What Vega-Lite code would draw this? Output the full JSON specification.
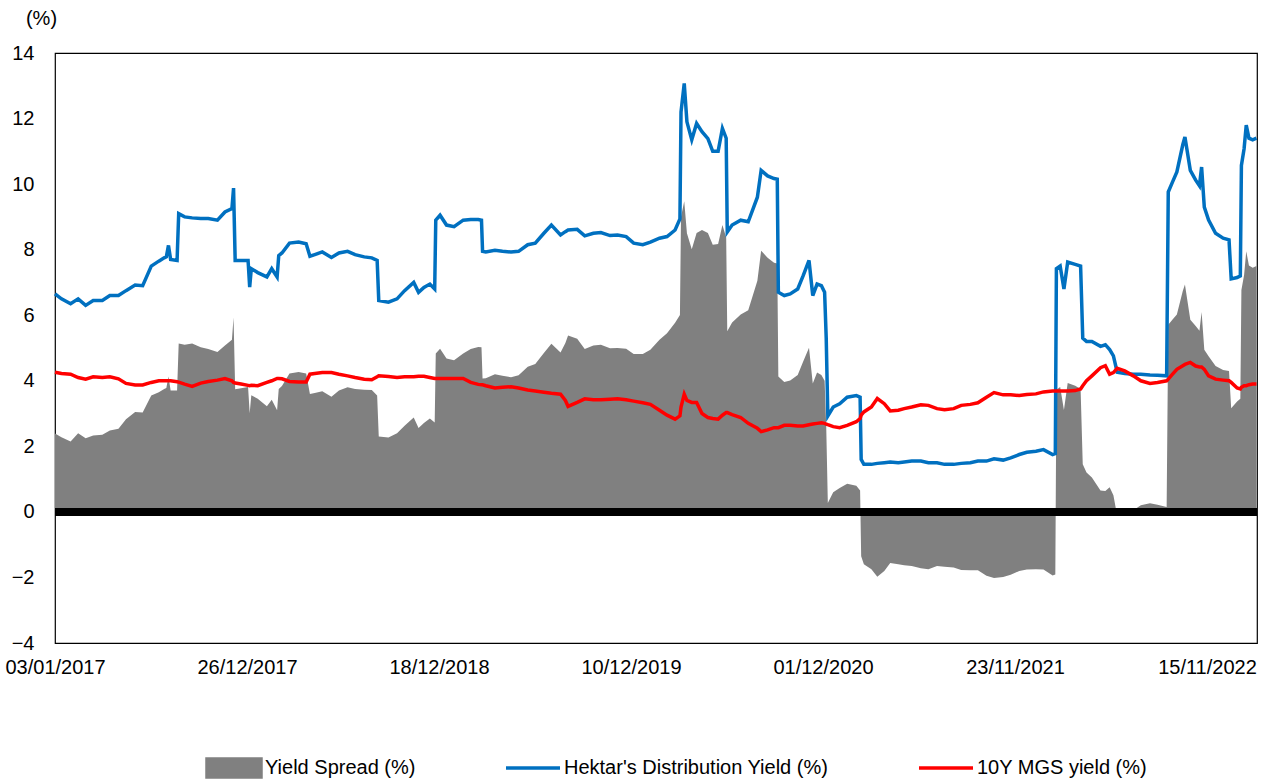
{
  "$schema": "https://vega.github.io/schema/vega-lite/v6.json",
  "width": 1202,
  "height": 590,
  "autosize": {"type": "none"},
  "padding": {"left": 55, "top": 53, "right": 8, "bottom": 137},
  "background": "white",
  "config": {
    "view": {"stroke": "#000", "strokeWidth": 1.2},
    "font": "Liberation Sans",
    "axis": {"labelFont": "Liberation Sans", "titleFont": "Liberation Sans", "labelColor": "#000", "titleColor": "#000"},
    "legend": {"labelFont": "Liberation Sans", "labelColor": "#000"}
  },
  "data": {
    "values": [
      {"date": "2017-01-03", "hektar": 6.65, "mgs": 4.26, "spread": 2.39},
      {"date": "2017-01-15", "hektar": 6.50, "mgs": 4.22, "spread": 2.28},
      {"date": "2017-02-01", "hektar": 6.35, "mgs": 4.20, "spread": 2.15},
      {"date": "2017-02-15", "hektar": 6.50, "mgs": 4.10, "spread": 2.40},
      {"date": "2017-03-01", "hektar": 6.30, "mgs": 4.05, "spread": 2.25},
      {"date": "2017-03-15", "hektar": 6.45, "mgs": 4.12, "spread": 2.33},
      {"date": "2017-04-01", "hektar": 6.45, "mgs": 4.10, "spread": 2.35},
      {"date": "2017-04-15", "hektar": 6.60, "mgs": 4.12, "spread": 2.48},
      {"date": "2017-05-01", "hektar": 6.60, "mgs": 4.06, "spread": 2.54},
      {"date": "2017-05-15", "hektar": 6.75, "mgs": 3.92, "spread": 2.83},
      {"date": "2017-06-01", "hektar": 6.92, "mgs": 3.87, "spread": 3.05},
      {"date": "2017-06-15", "hektar": 6.90, "mgs": 3.87, "spread": 3.03},
      {"date": "2017-07-01", "hektar": 7.50, "mgs": 3.95, "spread": 3.55},
      {"date": "2017-07-15", "hektar": 7.65, "mgs": 4.00, "spread": 3.65},
      {"date": "2017-07-25", "hektar": 7.75, "mgs": 4.00, "spread": 3.75},
      {"date": "2017-07-29", "hektar": 7.78, "mgs": 4.00, "spread": 3.78},
      {"date": "2017-08-02", "hektar": 8.13, "mgs": 4.00, "spread": 4.13},
      {"date": "2017-08-06", "hektar": 7.70, "mgs": 4.00, "spread": 3.70},
      {"date": "2017-08-18", "hektar": 7.67, "mgs": 3.97, "spread": 3.70},
      {"date": "2017-08-21", "hektar": 9.10, "mgs": 3.96, "spread": 5.14},
      {"date": "2017-09-01", "hektar": 9.00, "mgs": 3.90, "spread": 5.10},
      {"date": "2017-09-15", "hektar": 8.97, "mgs": 3.83, "spread": 5.14},
      {"date": "2017-10-01", "hektar": 8.95, "mgs": 3.93, "spread": 5.02},
      {"date": "2017-10-15", "hektar": 8.95, "mgs": 3.98, "spread": 4.97},
      {"date": "2017-11-01", "hektar": 8.90, "mgs": 4.02, "spread": 4.88},
      {"date": "2017-11-15", "hektar": 9.15, "mgs": 4.07, "spread": 5.08},
      {"date": "2017-11-28", "hektar": 9.25, "mgs": 4.00, "spread": 5.25},
      {"date": "2017-12-01", "hektar": 9.88, "mgs": 3.95, "spread": 5.93},
      {"date": "2017-12-04", "hektar": 7.67, "mgs": 3.93, "spread": 3.74},
      {"date": "2017-12-15", "hektar": 7.67, "mgs": 3.90, "spread": 3.77},
      {"date": "2017-12-28", "hektar": 7.67, "mgs": 3.86, "spread": 3.81},
      {"date": "2017-12-31", "hektar": 6.86, "mgs": 3.85, "spread": 3.01},
      {"date": "2018-01-03", "hektar": 7.42, "mgs": 3.86, "spread": 3.56},
      {"date": "2018-01-15", "hektar": 7.30, "mgs": 3.85, "spread": 3.45},
      {"date": "2018-02-01", "hektar": 7.17, "mgs": 3.95, "spread": 3.22},
      {"date": "2018-02-10", "hektar": 7.42, "mgs": 4.00, "spread": 3.42},
      {"date": "2018-02-20", "hektar": 7.17, "mgs": 4.07, "spread": 3.10},
      {"date": "2018-02-23", "hektar": 7.82, "mgs": 4.07, "spread": 3.75},
      {"date": "2018-03-01", "hektar": 7.90, "mgs": 4.06, "spread": 3.84},
      {"date": "2018-03-15", "hektar": 8.20, "mgs": 3.98, "spread": 4.22},
      {"date": "2018-04-01", "hektar": 8.23, "mgs": 3.96, "spread": 4.27},
      {"date": "2018-04-15", "hektar": 8.18, "mgs": 3.96, "spread": 4.22},
      {"date": "2018-04-22", "hektar": 7.80, "mgs": 4.20, "spread": 3.60},
      {"date": "2018-05-01", "hektar": 7.85, "mgs": 4.22, "spread": 3.63},
      {"date": "2018-05-15", "hektar": 7.93, "mgs": 4.25, "spread": 3.68},
      {"date": "2018-06-01", "hektar": 7.76, "mgs": 4.25, "spread": 3.51},
      {"date": "2018-06-15", "hektar": 7.90, "mgs": 4.20, "spread": 3.70},
      {"date": "2018-07-01", "hektar": 7.95, "mgs": 4.15, "spread": 3.80},
      {"date": "2018-07-15", "hektar": 7.85, "mgs": 4.10, "spread": 3.75},
      {"date": "2018-08-01", "hektar": 7.78, "mgs": 4.05, "spread": 3.73},
      {"date": "2018-08-15", "hektar": 7.75, "mgs": 4.03, "spread": 3.72},
      {"date": "2018-08-25", "hektar": 7.67, "mgs": 4.12, "spread": 3.55},
      {"date": "2018-08-28", "hektar": 6.45, "mgs": 4.15, "spread": 2.30},
      {"date": "2018-09-15", "hektar": 6.40, "mgs": 4.13, "spread": 2.27},
      {"date": "2018-10-01", "hektar": 6.50, "mgs": 4.10, "spread": 2.40},
      {"date": "2018-10-15", "hektar": 6.75, "mgs": 4.12, "spread": 2.63},
      {"date": "2018-11-01", "hektar": 7.00, "mgs": 4.12, "spread": 2.88},
      {"date": "2018-11-10", "hektar": 6.70, "mgs": 4.14, "spread": 2.56},
      {"date": "2018-11-20", "hektar": 6.85, "mgs": 4.14, "spread": 2.71},
      {"date": "2018-12-01", "hektar": 6.95, "mgs": 4.10, "spread": 2.85},
      {"date": "2018-12-10", "hektar": 6.80, "mgs": 4.07, "spread": 2.73},
      {"date": "2018-12-12", "hektar": 8.90, "mgs": 4.07, "spread": 4.83},
      {"date": "2018-12-20", "hektar": 9.05, "mgs": 4.07, "spread": 4.98},
      {"date": "2019-01-01", "hektar": 8.75, "mgs": 4.07, "spread": 4.68},
      {"date": "2019-01-15", "hektar": 8.70, "mgs": 4.07, "spread": 4.63},
      {"date": "2019-02-01", "hektar": 8.90, "mgs": 4.07, "spread": 4.83},
      {"date": "2019-02-15", "hektar": 8.92, "mgs": 3.95, "spread": 4.97},
      {"date": "2019-03-01", "hektar": 8.92, "mgs": 3.89, "spread": 5.03},
      {"date": "2019-03-07", "hektar": 8.90, "mgs": 3.88, "spread": 5.02},
      {"date": "2019-03-09", "hektar": 7.95, "mgs": 3.88, "spread": 4.07},
      {"date": "2019-03-15", "hektar": 7.93, "mgs": 3.85, "spread": 4.08},
      {"date": "2019-04-01", "hektar": 7.98, "mgs": 3.78, "spread": 4.20},
      {"date": "2019-04-15", "hektar": 7.95, "mgs": 3.80, "spread": 4.15},
      {"date": "2019-05-01", "hektar": 7.93, "mgs": 3.82, "spread": 4.11},
      {"date": "2019-05-15", "hektar": 7.95, "mgs": 3.78, "spread": 4.17},
      {"date": "2019-06-01", "hektar": 8.15, "mgs": 3.72, "spread": 4.43},
      {"date": "2019-06-15", "hektar": 8.20, "mgs": 3.69, "spread": 4.51},
      {"date": "2019-07-01", "hektar": 8.50, "mgs": 3.65, "spread": 4.85},
      {"date": "2019-07-15", "hektar": 8.75, "mgs": 3.62, "spread": 5.13},
      {"date": "2019-08-01", "hektar": 8.45, "mgs": 3.59, "spread": 4.86},
      {"date": "2019-08-10", "hektar": 8.55, "mgs": 3.40, "spread": 5.15},
      {"date": "2019-08-15", "hektar": 8.60, "mgs": 3.22, "spread": 5.38},
      {"date": "2019-09-01", "hektar": 8.62, "mgs": 3.34, "spread": 5.28},
      {"date": "2019-09-15", "hektar": 8.42, "mgs": 3.45, "spread": 4.97},
      {"date": "2019-10-01", "hektar": 8.50, "mgs": 3.42, "spread": 5.08},
      {"date": "2019-10-15", "hektar": 8.52, "mgs": 3.42, "spread": 5.10},
      {"date": "2019-11-01", "hektar": 8.43, "mgs": 3.44, "spread": 4.99},
      {"date": "2019-11-15", "hektar": 8.45, "mgs": 3.45, "spread": 5.00},
      {"date": "2019-12-01", "hektar": 8.40, "mgs": 3.42, "spread": 4.98},
      {"date": "2019-12-15", "hektar": 8.20, "mgs": 3.38, "spread": 4.82},
      {"date": "2020-01-01", "hektar": 8.15, "mgs": 3.33, "spread": 4.82},
      {"date": "2020-01-15", "hektar": 8.23, "mgs": 3.28, "spread": 4.95},
      {"date": "2020-02-01", "hektar": 8.35, "mgs": 3.10, "spread": 5.25},
      {"date": "2020-02-15", "hektar": 8.40, "mgs": 2.95, "spread": 5.45},
      {"date": "2020-03-01", "hektar": 8.60, "mgs": 2.83, "spread": 5.77},
      {"date": "2020-03-10", "hektar": 8.94, "mgs": 2.93, "spread": 6.01},
      {"date": "2020-03-12", "hektar": 12.20, "mgs": 3.20, "spread": 9.00},
      {"date": "2020-03-18", "hektar": 13.07, "mgs": 3.59, "spread": 9.48},
      {"date": "2020-03-23", "hektar": 11.90, "mgs": 3.40, "spread": 8.50},
      {"date": "2020-04-01", "hektar": 11.35, "mgs": 3.34, "spread": 8.01},
      {"date": "2020-04-10", "hektar": 11.85, "mgs": 3.34, "spread": 8.51},
      {"date": "2020-04-20", "hektar": 11.60, "mgs": 3.00, "spread": 8.60},
      {"date": "2020-05-01", "hektar": 11.39, "mgs": 2.88, "spread": 8.51},
      {"date": "2020-05-10", "hektar": 11.00, "mgs": 2.85, "spread": 8.15},
      {"date": "2020-05-20", "hektar": 11.00, "mgs": 2.83, "spread": 8.17},
      {"date": "2020-05-28", "hektar": 11.70, "mgs": 2.95, "spread": 8.75},
      {"date": "2020-06-04", "hektar": 11.40, "mgs": 3.03, "spread": 8.37},
      {"date": "2020-06-06", "hektar": 8.54, "mgs": 3.03, "spread": 5.51},
      {"date": "2020-06-15", "hektar": 8.75, "mgs": 2.97, "spread": 5.78},
      {"date": "2020-07-01", "hektar": 8.90, "mgs": 2.88, "spread": 6.02},
      {"date": "2020-07-15", "hektar": 8.85, "mgs": 2.70, "spread": 6.15},
      {"date": "2020-08-01", "hektar": 9.60, "mgs": 2.55, "spread": 7.05},
      {"date": "2020-08-08", "hektar": 10.42, "mgs": 2.45, "spread": 7.97},
      {"date": "2020-08-20", "hektar": 10.25, "mgs": 2.50, "spread": 7.75},
      {"date": "2020-09-01", "hektar": 10.17, "mgs": 2.57, "spread": 7.60},
      {"date": "2020-09-07", "hektar": 10.15, "mgs": 2.57, "spread": 7.58},
      {"date": "2020-09-09", "hektar": 6.70, "mgs": 2.57, "spread": 4.13},
      {"date": "2020-09-20", "hektar": 6.60, "mgs": 2.64, "spread": 3.96},
      {"date": "2020-10-01", "hektar": 6.65, "mgs": 2.64, "spread": 4.01},
      {"date": "2020-10-15", "hektar": 6.80, "mgs": 2.62, "spread": 4.18},
      {"date": "2020-10-25", "hektar": 7.20, "mgs": 2.62, "spread": 4.58},
      {"date": "2020-11-05", "hektar": 7.67, "mgs": 2.66, "spread": 5.01},
      {"date": "2020-11-12", "hektar": 6.60, "mgs": 2.68, "spread": 3.92},
      {"date": "2020-11-20", "hektar": 6.95, "mgs": 2.70, "spread": 4.25},
      {"date": "2020-11-28", "hektar": 6.90, "mgs": 2.72, "spread": 4.18},
      {"date": "2020-12-04", "hektar": 6.70, "mgs": 2.70, "spread": 4.00},
      {"date": "2020-12-07", "hektar": 5.30, "mgs": 2.68, "spread": 2.62},
      {"date": "2020-12-10", "hektar": 2.93, "mgs": 2.66, "spread": 0.27},
      {"date": "2020-12-20", "hektar": 3.20, "mgs": 2.60, "spread": 0.60},
      {"date": "2021-01-01", "hektar": 3.30, "mgs": 2.57, "spread": 0.73},
      {"date": "2021-01-15", "hektar": 3.50, "mgs": 2.64, "spread": 0.86},
      {"date": "2021-02-01", "hektar": 3.55, "mgs": 2.75, "spread": 0.80},
      {"date": "2021-02-08", "hektar": 3.50, "mgs": 2.85, "spread": 0.65},
      {"date": "2021-02-10", "hektar": 1.60, "mgs": 2.95, "spread": -1.35},
      {"date": "2021-02-15", "hektar": 1.45, "mgs": 3.05, "spread": -1.60},
      {"date": "2021-03-01", "hektar": 1.45, "mgs": 3.20, "spread": -1.75},
      {"date": "2021-03-12", "hektar": 1.48, "mgs": 3.46, "spread": -1.98},
      {"date": "2021-03-25", "hektar": 1.50, "mgs": 3.30, "spread": -1.80},
      {"date": "2021-04-05", "hektar": 1.52, "mgs": 3.08, "spread": -1.56},
      {"date": "2021-04-20", "hektar": 1.50, "mgs": 3.10, "spread": -1.60},
      {"date": "2021-05-01", "hektar": 1.52, "mgs": 3.15, "spread": -1.63},
      {"date": "2021-05-15", "hektar": 1.55, "mgs": 3.20, "spread": -1.65},
      {"date": "2021-06-01", "hektar": 1.55, "mgs": 3.27, "spread": -1.72},
      {"date": "2021-06-15", "hektar": 1.50, "mgs": 3.25, "spread": -1.75},
      {"date": "2021-07-01", "hektar": 1.50, "mgs": 3.15, "spread": -1.65},
      {"date": "2021-07-15", "hektar": 1.45, "mgs": 3.12, "spread": -1.67},
      {"date": "2021-08-01", "hektar": 1.45, "mgs": 3.15, "spread": -1.70},
      {"date": "2021-08-15", "hektar": 1.48, "mgs": 3.25, "spread": -1.77},
      {"date": "2021-09-01", "hektar": 1.50, "mgs": 3.28, "spread": -1.78},
      {"date": "2021-09-15", "hektar": 1.55, "mgs": 3.33, "spread": -1.78},
      {"date": "2021-10-01", "hektar": 1.55, "mgs": 3.50, "spread": -1.95},
      {"date": "2021-10-15", "hektar": 1.62, "mgs": 3.64, "spread": -2.02},
      {"date": "2021-11-01", "hektar": 1.58, "mgs": 3.57, "spread": -1.99},
      {"date": "2021-11-15", "hektar": 1.65, "mgs": 3.57, "spread": -1.92},
      {"date": "2021-12-01", "hektar": 1.75, "mgs": 3.55, "spread": -1.80},
      {"date": "2021-12-15", "hektar": 1.82, "mgs": 3.58, "spread": -1.76},
      {"date": "2022-01-01", "hektar": 1.85, "mgs": 3.60, "spread": -1.75},
      {"date": "2022-01-15", "hektar": 1.90, "mgs": 3.66, "spread": -1.76},
      {"date": "2022-02-01", "hektar": 1.75, "mgs": 3.69, "spread": -1.94},
      {"date": "2022-02-06", "hektar": 1.78, "mgs": 3.69, "spread": -1.91},
      {"date": "2022-02-08", "hektar": 7.42, "mgs": 3.69, "spread": 3.73},
      {"date": "2022-02-15", "hektar": 7.50, "mgs": 3.69, "spread": 3.81},
      {"date": "2022-02-22", "hektar": 6.80, "mgs": 3.69, "spread": 3.11},
      {"date": "2022-03-01", "hektar": 7.62, "mgs": 3.69, "spread": 3.93},
      {"date": "2022-03-15", "hektar": 7.55, "mgs": 3.70, "spread": 3.85},
      {"date": "2022-03-25", "hektar": 7.50, "mgs": 3.75, "spread": 3.75},
      {"date": "2022-03-29", "hektar": 5.30, "mgs": 3.85, "spread": 1.45},
      {"date": "2022-04-05", "hektar": 5.20, "mgs": 4.00, "spread": 1.20},
      {"date": "2022-04-15", "hektar": 5.20, "mgs": 4.15, "spread": 1.05},
      {"date": "2022-05-01", "hektar": 5.05, "mgs": 4.40, "spread": 0.65},
      {"date": "2022-05-10", "hektar": 5.10, "mgs": 4.46, "spread": 0.64},
      {"date": "2022-05-18", "hektar": 4.95, "mgs": 4.20, "spread": 0.75},
      {"date": "2022-05-25", "hektar": 4.76, "mgs": 4.25, "spread": 0.51},
      {"date": "2022-06-01", "hektar": 4.26, "mgs": 4.38, "spread": -0.12},
      {"date": "2022-06-15", "hektar": 4.22, "mgs": 4.30, "spread": -0.08},
      {"date": "2022-07-01", "hektar": 4.20, "mgs": 4.15, "spread": 0.05},
      {"date": "2022-07-15", "hektar": 4.20, "mgs": 4.00, "spread": 0.20},
      {"date": "2022-08-01", "hektar": 4.18, "mgs": 3.92, "spread": 0.26},
      {"date": "2022-08-15", "hektar": 4.17, "mgs": 3.95, "spread": 0.22},
      {"date": "2022-09-01", "hektar": 4.15, "mgs": 4.00, "spread": 0.15},
      {"date": "2022-09-04", "hektar": 9.76, "mgs": 4.05, "spread": 5.71},
      {"date": "2022-09-12", "hektar": 10.07, "mgs": 4.20, "spread": 5.87},
      {"date": "2022-09-20", "hektar": 10.37, "mgs": 4.35, "spread": 6.02},
      {"date": "2022-10-01", "hektar": 11.20, "mgs": 4.46, "spread": 6.74},
      {"date": "2022-10-05", "hektar": 11.44, "mgs": 4.50, "spread": 6.94},
      {"date": "2022-10-15", "hektar": 10.42, "mgs": 4.56, "spread": 5.86},
      {"date": "2022-10-25", "hektar": 10.12, "mgs": 4.45, "spread": 5.67},
      {"date": "2022-11-01", "hektar": 9.95, "mgs": 4.42, "spread": 5.53},
      {"date": "2022-11-05", "hektar": 10.52, "mgs": 4.42, "spread": 6.10},
      {"date": "2022-11-10", "hektar": 9.30, "mgs": 4.35, "spread": 4.95},
      {"date": "2022-11-18", "hektar": 8.90, "mgs": 4.15, "spread": 4.75},
      {"date": "2022-12-01", "hektar": 8.50, "mgs": 4.05, "spread": 4.45},
      {"date": "2022-12-15", "hektar": 8.35, "mgs": 4.02, "spread": 4.33},
      {"date": "2022-12-26", "hektar": 8.30, "mgs": 4.00, "spread": 4.30},
      {"date": "2022-12-30", "hektar": 7.11, "mgs": 3.95, "spread": 3.16},
      {"date": "2023-01-10", "hektar": 7.15, "mgs": 3.78, "spread": 3.37},
      {"date": "2023-01-16", "hektar": 7.20, "mgs": 3.75, "spread": 3.45},
      {"date": "2023-01-18", "hektar": 10.57, "mgs": 3.80, "spread": 6.77},
      {"date": "2023-01-23", "hektar": 11.08, "mgs": 3.85, "spread": 7.23},
      {"date": "2023-01-27", "hektar": 11.80, "mgs": 3.85, "spread": 7.95},
      {"date": "2023-02-01", "hektar": 11.40, "mgs": 3.88, "spread": 7.52},
      {"date": "2023-02-08", "hektar": 11.35, "mgs": 3.90, "spread": 7.45},
      {"date": "2023-02-15", "hektar": 11.40, "mgs": 3.90, "spread": 7.50}
    ]
  },
  "layer": [
    {
      "mark": {"type": "area", "opacity": 1},
      "encoding": {
        "x": {
          "field": "date", "type": "temporal",
          "scale": {"type": "utc", "domain": [{"year": 2017, "month": 1, "date": 3, "utc": true}, {"year": 2023, "month": 2, "date": 16, "utc": true}]},
          "axis": {
            "values": [
              {"year": 2017, "month": 1, "date": 3, "utc": true},
              {"year": 2017, "month": 12, "date": 26, "utc": true},
              {"year": 2018, "month": 12, "date": 18, "utc": true},
              {"year": 2019, "month": 12, "date": 10, "utc": true},
              {"year": 2020, "month": 12, "date": 1, "utc": true},
              {"year": 2021, "month": 11, "date": 23, "utc": true},
              {"year": 2022, "month": 11, "date": 15, "utc": true}
            ],
            "format": "%d/%m/%Y", "grid": false, "ticks": false, "domain": false,
            "labelFontSize": 20, "labelPadding": 14, "labelFlush": false, "labelOverlap": false, "title": null
          }
        },
        "y": {
          "field": "spread", "type": "quantitative",
          "scale": {"domain": [-4, 14], "nice": false, "zero": false},
          "axis": {
            "values": [-4, -2, 0, 2, 4, 6, 8, 10, 12, 14],
            "grid": false, "ticks": false, "domain": false,
            "labelFontSize": 20, "labelPadding": 21,
            "title": "(%)", "titleAngle": 0, "titleX": -14, "titleY": -35,
            "titleAlign": "center", "titleBaseline": "middle",
            "titleFontSize": 20, "titleFontWeight": "normal"
          }
        },
        "color": {
          "datum": "Yield Spread (%)",
          "scale": {
            "domain": ["Yield Spread (%)", "Hektar's Distribution Yield (%)", "10Y MGS yield (%)"],
            "range": ["#808080", "#0070C0", "#FF0000"]
          },
          "legend": {
            "orient": "none", "legendX": 152, "legendY": 688, "direction": "horizontal",
            "title": null, "padding": 0, "symbolSize": 2500, "labelFontSize": 20,
            "labelLimit": 400, "labelOffset": 4, "columnPadding": 83,
            "symbolOpacity": 1, "symbolStrokeWidth": 3.5,
            "encode": {
              "symbols": {
                "update": {
                  "shape": {"signal": "datum.value === 'Yield Spread (%)' ? 'M-1.08,-0.36H1.08V0.36H-1.08Z' : 'M-1.08,-0.36M1.08,0.36M-1.08,0H1.08'"},
                  "fill": {"signal": "datum.value === 'Yield Spread (%)' ? '#808080' : 'transparent'"},
                  "stroke": {"signal": "datum.value === 'Yield Spread (%)' ? 'transparent' : (datum.value === '10Y MGS yield (%)' ? '#FF0000' : '#0070C0')"},
                  "strokeWidth": {"value": 3.5},
                  "opacity": {"value": 1}
                }
              }
            }
          }
        }
      }
    },
    {
      "mark": {"type": "rule", "color": "#000000", "strokeWidth": 8},
      "encoding": {"y": {"datum": 0}}
    },
    {
      "mark": {"type": "line", "strokeWidth": 3.5},
      "encoding": {
        "x": {"field": "date", "type": "temporal"},
        "y": {"field": "hektar", "type": "quantitative"},
        "color": {"datum": "Hektar's Distribution Yield (%)"}
      }
    },
    {
      "mark": {"type": "line", "strokeWidth": 3.5},
      "encoding": {
        "x": {"field": "date", "type": "temporal"},
        "y": {"field": "mgs", "type": "quantitative"},
        "color": {"datum": "10Y MGS yield (%)"}
      }
    }
  ]
}
